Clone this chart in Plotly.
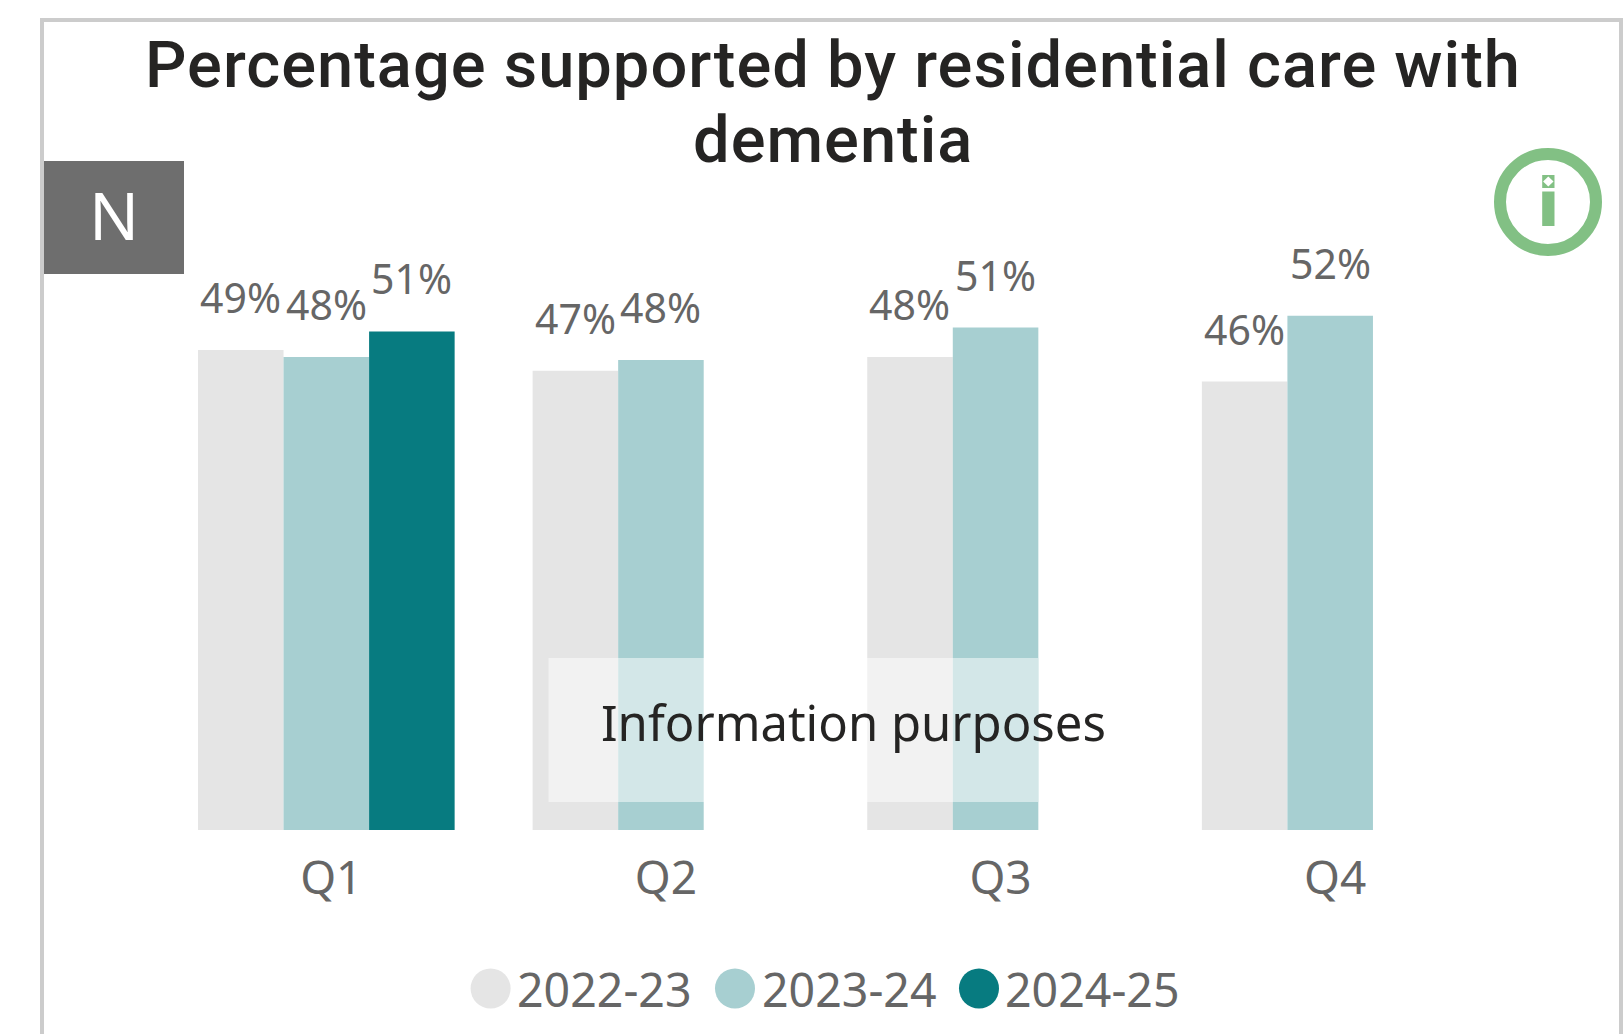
import plotly.graph_objects as go

W = 1623
H = 1034

quarters = ["Q1", "Q2", "Q3", "Q4"]
years = ["2022-23", "2023-24", "2024-25"]
vals_2022 = [0.489, 0.468, 0.482, 0.457]
vals_2023 = [0.482, 0.479, 0.512, 0.524]
vals_2024 = [0.508, None, None, None]
colours = ["#e5e5e5", "#a7cfd1", "#077b80"]

title_lines = ["Percentage supported by residential care with", "dementia"]

GREY = "#666666"
DARK = "#252423"
GREEN = "#82c084"
LABEL_FONT = "Noto Sans"
TITLE_FONT = dict(family="Roboto", size=65, weight=500, color=DARK)
BAR_STEP = 85.6  # px between bars in a group


# page pixels -> paper coords (margins are 0 so paper == page)
def px(x):
    return x / W


def py(y):
    return 1 - y / H


def rect(x0, y0, x1, y1, colour, **kw):
    return dict(type="rect", xref="paper", yref="paper", x0=px(x0), x1=px(x1),
                y0=py(y0), y1=py(y1), fillcolor=colour, line_width=0, **kw)


def circle(cx, cy, r, fill, line=None, lw=0):
    return dict(type="circle", xref="paper", yref="paper", x0=px(cx - r), x1=px(cx + r),
                y0=py(cy + r), y1=py(cy - r), fillcolor=fill,
                line=dict(color=line or fill, width=lw))


fig = go.Figure()
all_vals = [vals_2022, vals_2023, vals_2024]
for year, vals, c in zip(years, all_vals, colours):
    fig.add_trace(go.Bar(x=quarters, y=vals, name=year, marker_color=c, marker_line_width=0))

shapes = [
    # frame
    rect(40, 18, 44, H, "#cccccc"),
    rect(40, 18, W, 22, "#cccccc"),
    rect(1619, 18, W, H, "#cccccc"),
    # N badge
    rect(44, 161, 184, 274, "#6e6e6e"),
    # info icon
    circle(1548, 202, 48, "rgba(0,0,0,0)", GREEN, 12),
    rect(1542.2, 191.5, 1554.5, 226, GREEN),
    rect(1542.2, 175, 1554.5, 188, GREEN),
    dict(type="path", xref="paper", yref="paper", fillcolor="white", line_width=0,
         path=f"M {px(1548.3)} {py(176.5)} L {px(1553.5)} {py(181.5)} "
              f"L {px(1548.3)} {py(186.5)} L {px(1543.1)} {py(181.5)} Z"),
    # overlay behind "Information purposes"
    rect(548.5, 658, 1038, 802, "rgba(255,255,255,0.5)"),
]

annotations = [
    dict(text=title_lines[1], x=px(833), y=py(140), font=TITLE_FONT),
    dict(text="N", x=px(114), y=py(214), font=dict(family=LABEL_FONT, size=66, color="white")),
    dict(text="Information purposes", x=px(853), y=py(722),
         font=dict(family=LABEL_FONT, size=49, color=DARK)),
]

legend_cx = [490.6, 735, 979]
legend_tx = [514.5, 760, 1003]
for year, c, cx, tx in zip(years, colours, legend_cx, legend_tx):
    shapes.append(circle(cx, 988.5, 20, c))
    annotations.append(dict(text=year, x=px(tx), y=py(989), xanchor="left",
                            font=dict(family=LABEL_FONT, size=46.5, color=GREY)))

for a in annotations:
    a.update(xref="paper", yref="paper")

# data labels sit further above the bars than textposition="outside" allows
for i, vals in enumerate(all_vals):
    for q, v in zip(quarters, vals):
        if v is None:
            continue
        annotations.append(dict(text=f"{v:.0%}", x=q, y=v, xref="x", yref="y",
                                xshift=(i - 1) * BAR_STEP, yshift=53,
                                font=dict(family=LABEL_FONT, size=41, color=GREY)))

for a in annotations:
    a.update(showarrow=False)
    a.setdefault("xanchor", "center")
    a.setdefault("yanchor", "middle")

fig.update_layout(
    width=W, height=H,
    margin=dict(l=0, r=0, t=0, b=0, pad=0),
    barmode="group", bargap=0.233, bargroupgap=0,
    plot_bgcolor="white", paper_bgcolor="white",
    showlegend=False,
    title=dict(text=title_lines[0], x=833 / W, xanchor="center",
               y=1 - 64 / H, yanchor="middle", font=TITLE_FONT),
    xaxis=dict(domain=[159 / W, 1497.5 / W], showgrid=False, showline=False, ticks="",
               tickfont=dict(family=LABEL_FONT, size=46, color=GREY),
               ticklabelshift=5, ticklabelstandoff=17),
    yaxis=dict(domain=[204 / H, 783 / H], range=[0, 0.590], visible=False),
    shapes=shapes, annotations=annotations,
)

# plotly has no letter-spacing setting, the reference title is tracked out a bit
post = """
document.body.style.margin = '0';
document.querySelectorAll('.gtitle, .annotation-text').forEach(function (t) {
  if (t.textContent.indexOf('Percentage') === 0 || t.textContent === 'dementia') {
    t.style.letterSpacing = '1px';
  }
});
"""
fig.write_html("out.html", config={"displayModeBar": False}, post_script=post)
